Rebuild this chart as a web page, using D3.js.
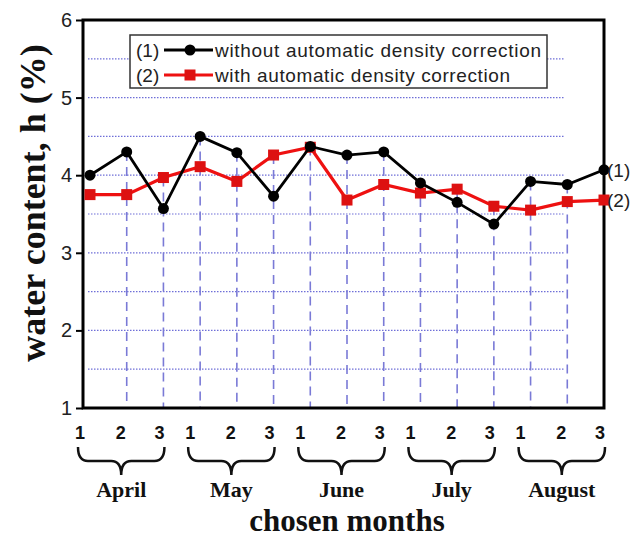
<!DOCTYPE html>
<html>
<head>
<meta charset="utf-8">
<script src="https://cdn.jsdelivr.net/npm/d3@7"></script>
<style>
body{margin:0;background:#fff;}
svg{display:block;}
</style>
</head>
<body>
<svg id="chart"></svg>
<script>
// data
var months = ['April','May','June','July','August'];
var weekLabels = ['1','2','3','1','2','3','1','2','3','1','2','3','1','2','3'];
var withoutCorr = [4.0,4.3,3.57,4.5,4.29,3.73,4.37,4.26,4.3,3.9,3.65,3.37,3.92,3.88,4.07];
var withCorr = [3.75,3.75,3.97,4.11,3.92,4.26,4.36,3.68,3.88,3.77,3.82,3.6,3.55,3.66,3.68];
var yTicks = [1,2,3,4,5,6];
var gridVals = [1.5,2,2.5,3,3.5,4,4.5,5,5.5];

var width = 644, height = 537;
var svg = d3.select('#chart').attr('width',width).attr('height',height);

var axisLeftX = 83, plotTop = 20, plotBottom = 408, plotRight = 604;
var xScale = d3.scaleLinear().domain([0,14]).range([90,604]);
var yScale = d3.scaleLinear().domain([1,6]).range([plotBottom,plotTop]);
var sans = 'Arial, "Liberation Sans", sans-serif';
var serif = '"Times New Roman", "Liberation Serif", serif';

//horizontal dotted grid
svg.append('g').selectAll('line').data(gridVals).enter().append('line')
	.attr('x1',axisLeftX+5).attr('x2',plotRight-40)
	.attr('y1',function(d){return yScale(d);})
	.attr('y2',function(d){return yScale(d);})
	.style('stroke','#6f6fd8').style('stroke-width',1.2)
	.style('stroke-dasharray','1.5,1.5');

//vertical dashed lines from the upper point down to the axis
var idx = d3.range(1,14);
svg.append('g').selectAll('line').data(idx).enter().append('line')
	.attr('x1',function(i){return xScale(i);})
	.attr('x2',function(i){return xScale(i);})
	.attr('y1',function(i){return yScale(Math.max(withoutCorr[i],withCorr[i]));})
	.attr('y2',plotBottom)
	.style('stroke','#7a7ad6').style('stroke-width',1.6)
	.style('stroke-dasharray','9,6');

//frame
svg.append('rect')
	.attr('x',axisLeftX).attr('y',plotTop)
	.attr('width',plotRight-axisLeftX).attr('height',plotBottom-plotTop)
	.style('fill','none').style('stroke','#000').style('stroke-width',3);

//y axis
var axisY = d3.axisLeft(yScale).tickValues(yTicks).tickSize(7).tickPadding(4).tickFormat(d3.format('d'));
var axisYG = svg.append('g').attr('transform','translate('+axisLeftX+',0)').call(axisY);
axisYG.select('.domain').remove();
axisYG.selectAll('line').style('stroke','#000').style('stroke-width',2);
axisYG.selectAll('text').style('font-family',sans)
	.style('font-size','20px').style('fill','#222');

//x tick labels
var xOff = {'1':-10,'2':-6,'3':-4};
svg.append('g').selectAll('text').data(weekLabels).enter().append('text')
	.attr('x',function(d,i){return xScale(i) + xOff[d];})
	.attr('y',439)
	.attr('text-anchor','middle')
	.style('font-family',sans)
	.style('font-weight','bold').style('font-size','18px').style('fill','#111')
	.text(function(d){return d;});

//braces and month names
function bracePath(a,b){
	var top = 447, mid = 461, bot = 475, r = 10, c = (a+b)/2;
	return 'M'+a+','+top+' Q'+a+','+mid+' '+(a+r)+','+mid+
		' L'+(c-r)+','+mid+' Q'+c+','+mid+' '+c+','+bot+
		' Q'+c+','+mid+' '+(c+r)+','+mid+
		' L'+(b-r)+','+mid+' Q'+b+','+mid+' '+b+','+top;
}
var monthG = svg.append('g');
months.forEach(function(m,k){
	var a = xScale(k*3) - 12, b = xScale(k*3+2) + 1;
	monthG.append('path').attr('d',bracePath(a,b))
		.style('fill','none').style('stroke','#111').style('stroke-width',2.5);
	monthG.append('text').attr('x',(a+b)/2).attr('y',497)
		.attr('text-anchor','middle')
		.style('font-family',serif)
		.style('font-weight','bold').style('font-size','22px').style('fill','#111')
		.text(m);
});

//axis titles
svg.append('text').attr('x',347).attr('y',531).attr('text-anchor','middle')
	.style('font-family',serif)
	.style('font-weight','bold').style('font-size','31px').style('fill','#111')
	.text('chosen months');
svg.append('text').attr('transform','translate(45,203) rotate(-90)').attr('text-anchor','middle')
	.style('font-family',serif)
	.style('font-weight','bold').style('font-size','36px').style('fill','#111')
	.text('water content, h (%)');

//lines
var line = d3.line().x(function(d,i){return xScale(i);}).y(function(d){return yScale(d);});
var chartG = svg.append('g');
chartG.append('path').datum(withCorr).attr('d',line)
	.style('fill','none').style('stroke','#ee1111').style('stroke-width',3.2);
chartG.selectAll('rect.sq').data(withCorr).enter().append('rect').attr('class','sq')
	.attr('x',function(d,i){return xScale(i)-5.5;}).attr('y',function(d){return yScale(d)-5.5;})
	.attr('width',11).attr('height',11).style('fill','#dd1111');
chartG.append('path').datum(withoutCorr).attr('d',line)
	.style('fill','none').style('stroke','#000').style('stroke-width',2.8);
chartG.selectAll('circle').data(withoutCorr).enter().append('circle')
	.attr('cx',function(d,i){return xScale(i);}).attr('cy',function(d){return yScale(d);})
	.attr('r',5.5).style('fill','#000');

//end labels
var endLab = [{t:'(1)',v:withoutCorr[14]},{t:'(2)',v:withCorr[14]}];
svg.append('g').selectAll('text').data(endLab).enter().append('text')
	.attr('x',607).attr('y',function(d){return yScale(d.v)+7;})
	.style('font-family',sans)
	.style('font-size','19px').style('fill','#222')
	.text(function(d){return d.t;});

//legend
var legG = svg.append('g');
legG.append('rect').attr('x',130).attr('y',35).attr('width',417).attr('height',53)
	.style('fill','#fff').style('stroke','#333').style('stroke-width',1.5);
var legItems = [
	{num:'(1)',name:'without automatic density correction',len:326,color:'#000',shape:'circle'},
	{num:'(2)',name:'with automatic density correction',len:295,color:'#ee1111',shape:'square'}
];
legItems.forEach(function(it,k){
	var y = 50 + k*25;
	legG.append('text').attr('x',136).attr('y',y+7)
		.style('font-family',sans)
		.style('font-size','19px').style('fill','#222').text(it.num);
	legG.append('line').attr('x1',164).attr('x2',213).attr('y1',y).attr('y2',y)
		.style('stroke',it.color).style('stroke-width',3);
	if(it.shape==='circle'){
		legG.append('circle').attr('cx',190).attr('cy',y).attr('r',5.5).style('fill',it.color);
	}else{
		legG.append('rect').attr('x',184.5).attr('y',y-5.5).attr('width',11).attr('height',11).style('fill','#dd1111');
	}
	legG.append('text').attr('x',215).attr('y',y+7)
		.attr('textLength',it.len).attr('lengthAdjust','spacing')
		.style('font-family',sans)
		.style('font-size','19px').style('fill','#222').text(it.name);
});
</script>
</body>
</html>
